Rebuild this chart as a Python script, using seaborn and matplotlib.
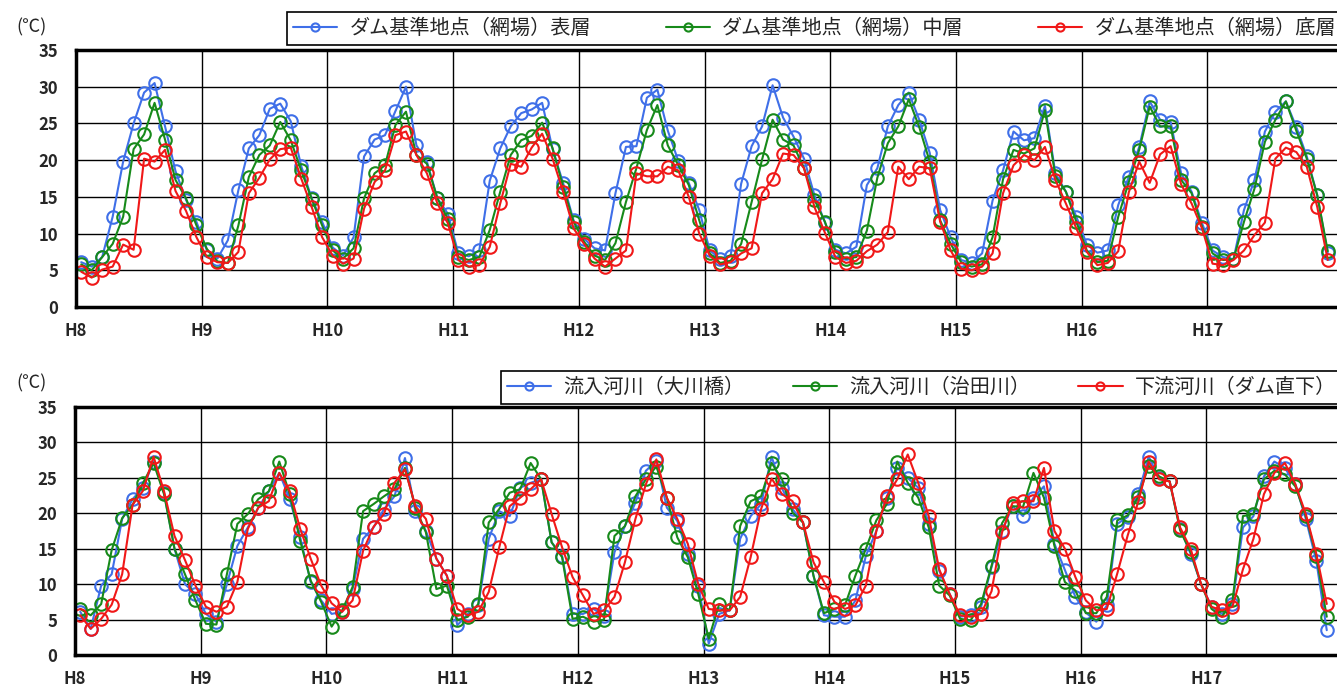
import numpy as np
import matplotlib
matplotlib.use('Agg')
import matplotlib.pyplot as plt
import seaborn as sns

sns.set_style('white')
plt.rcParams['font.family'] = ['Noto Sans CJK JP', 'DejaVu Sans']

# x-axis: fiscal years H8..H17, one reading per month
years = ['H8', 'H9', 'H10', 'H11', 'H12', 'H13', 'H14', 'H15', 'H16', 'H17']

# upper panel: dam reference point (網場), surface / middle / bottom layer
dam_surface = [
    6.1, 5.5, 6.8, 12.3, 19.8, 25.0, 29.2, 30.5, 24.6, 18.5, 14.6, 11.6,
    7.7, 6.6, 9.1, 15.9, 21.6, 23.4, 27.0, 27.7, 25.3, 19.2, 14.8, 11.6,
    8.1, 7.0, 9.5, 20.5, 22.8, 23.4, 26.7, 30.0, 22.0, 19.8, 14.8, 12.7,
    7.3, 6.9, 7.7, 17.2, 21.6, 24.6, 26.4, 26.9, 27.8, 21.5, 16.9, 11.8,
    9.3, 8.0, 7.7, 15.5, 21.8, 21.9, 28.5, 29.6, 24.0, 19.9, 16.9, 13.2,
    7.7, 6.6, 7.0, 16.8, 21.9, 24.6, 30.2, 25.8, 23.2, 20.2, 15.2, 11.5,
    7.8, 7.3, 8.2, 16.6, 18.9, 24.6, 27.5, 29.2, 25.5, 21.0, 13.2, 9.5,
    6.4, 6.0, 7.3, 14.5, 18.6, 23.9, 22.7, 23.0, 27.4, 18.2, 15.7, 12.3,
    8.5, 7.4, 7.7, 13.9, 17.7, 21.8, 28.0, 25.5, 25.2, 18.2, 15.7, 11.4,
    7.7, 6.8, 6.5, 13.2, 17.3, 23.9, 26.6, 28.0, 24.5, 20.5, 15.2, 7.3,
]
dam_middle = [
    5.8, 5.0, 6.8, 8.6, 12.3, 21.5, 23.5, 27.8, 22.8, 17.3, 14.8, 11.1,
    7.9, 6.2, 6.0, 11.1, 17.7, 20.7, 22.0, 25.2, 22.7, 18.6, 14.7, 11.1,
    7.7, 6.6, 8.0, 14.8, 18.2, 19.3, 24.8, 26.6, 20.7, 19.5, 14.8, 12.0,
    6.8, 6.4, 6.8, 10.5, 15.7, 20.7, 22.7, 23.3, 25.1, 21.6, 16.4, 11.6,
    8.9, 7.0, 6.4, 8.7, 14.3, 18.9, 24.1, 27.5, 22.0, 19.3, 16.6, 11.8,
    7.3, 6.0, 6.3, 8.6, 14.3, 20.1, 25.5, 22.8, 22.0, 18.9, 14.6, 11.6,
    7.5, 6.6, 6.8, 10.4, 17.6, 22.3, 24.6, 28.3, 24.5, 19.8, 11.8, 8.6,
    6.1, 5.5, 5.8, 9.5, 17.4, 21.4, 20.9, 21.6, 26.8, 17.8, 15.7, 11.6,
    7.7, 6.1, 6.3, 12.3, 17.0, 21.4, 27.3, 24.6, 24.6, 17.3, 15.5, 10.9,
    7.3, 6.4, 6.5, 11.6, 16.1, 22.5, 25.5, 28.0, 24.0, 20.2, 15.2, 7.6,
]
dam_bottom = [
    4.8, 4.0, 5.1, 5.5, 8.5, 7.8, 20.2, 19.8, 21.4, 15.8, 13.1, 9.5,
    6.8, 6.1, 6.0, 7.5, 15.5, 17.6, 20.1, 21.5, 21.7, 17.5, 13.6, 9.5,
    7.0, 5.9, 6.6, 13.4, 17.0, 18.6, 23.4, 23.9, 20.7, 18.2, 14.1, 11.4,
    6.4, 5.5, 5.7, 8.2, 14.1, 19.5, 19.1, 21.7, 23.6, 20.2, 15.7, 10.7,
    8.6, 6.6, 5.5, 6.6, 7.7, 18.2, 17.8, 17.8, 19.1, 18.6, 15.0, 10.0,
    7.0, 5.8, 6.1, 7.3, 8.0, 15.5, 17.4, 20.9, 20.7, 18.9, 13.6, 10.1,
    6.8, 6.0, 6.3, 7.6, 8.5, 10.2, 19.1, 17.4, 19.1, 18.9, 11.6, 7.7,
    5.2, 5.0, 5.5, 7.3, 15.5, 19.3, 20.7, 20.0, 21.8, 17.3, 14.1, 10.7,
    7.5, 5.7, 6.0, 7.6, 15.6, 19.8, 16.9, 20.8, 21.9, 16.7, 14.1, 10.7,
    5.9, 5.7, 6.4, 7.7, 9.8, 11.5, 20.2, 21.7, 21.1, 19.1, 13.6, 6.4,
]

# lower panel: inflow rivers and downstream river
inflow_okawa = [
    6.1, 3.7, 9.8, 11.4, 19.2, 22.0, 23.6, 27.3, 22.9, 15.0, 10.0, 8.6,
    5.8, 4.7, 10.0, 15.4, 18.0, 20.8, 23.1, 25.7, 22.0, 16.6, 10.3, 7.7,
    5.8, 6.1, 9.3, 16.4, 18.0, 20.6, 22.4, 27.8, 20.3, 17.5, 13.6, 11.2,
    4.2, 5.8, 7.0, 16.4, 20.3, 19.6, 23.6, 24.3, 24.8, 15.9, 14.0, 5.8,
    5.8, 6.5, 5.5, 14.5, 18.2, 21.5, 26.0, 27.4, 20.8, 18.9, 14.3, 9.8,
    1.6, 5.8, 6.3, 16.4, 19.6, 21.3, 28.0, 23.5, 20.6, 18.7, 11.2, 5.6,
    5.4, 5.4, 7.7, 14.0, 17.5, 22.2, 26.4, 25.0, 23.6, 18.5, 11.9, 8.6,
    5.4, 5.6, 6.8, 12.4, 17.5, 21.0, 19.6, 22.2, 23.8, 15.7, 12.0, 8.2,
    6.0, 4.7, 7.0, 18.5, 19.5, 22.7, 28.0, 25.0, 24.5, 17.8, 14.3, 10.0,
    6.8, 5.8, 7.2, 18.0, 19.6, 25.2, 27.3, 26.4, 24.1, 19.2, 13.3, 3.5,
]
inflow_haruta = [
    6.5, 5.6, 7.2, 14.8, 19.3, 21.2, 24.3, 27.1, 22.7, 15.0, 11.4, 7.7,
    4.4, 4.3, 11.4, 18.5, 19.9, 22.0, 23.1, 27.3, 22.7, 16.1, 10.5, 7.5,
    4.0, 6.3, 9.6, 20.3, 21.3, 22.4, 23.4, 26.4, 20.8, 17.3, 9.3, 9.8,
    4.9, 5.4, 7.2, 18.7, 20.6, 22.9, 23.4, 27.1, 24.8, 15.9, 13.8, 5.1,
    5.4, 4.7, 5.0, 16.8, 18.2, 22.4, 24.8, 26.6, 22.2, 16.6, 13.8, 8.6,
    2.3, 7.2, 6.3, 18.2, 21.7, 22.4, 27.1, 24.8, 20.1, 18.7, 11.2, 5.9,
    6.5, 7.0, 11.2, 15.0, 19.0, 21.3, 27.3, 24.3, 22.2, 18.0, 9.8, 8.4,
    5.1, 4.9, 7.2, 12.6, 18.6, 21.0, 20.9, 25.7, 22.2, 15.4, 10.3, 9.1,
    5.9, 5.9, 8.2, 19.0, 19.7, 22.3, 26.7, 25.2, 24.5, 17.6, 14.5, 10.0,
    6.5, 5.4, 7.7, 19.6, 19.9, 24.8, 26.0, 25.5, 23.8, 19.6, 14.0, 5.4,
]
downstream = [
    5.6, 3.7, 5.1, 7.1, 11.4, 21.2, 23.2, 28.0, 23.1, 16.8, 13.4, 9.8,
    6.8, 6.1, 6.8, 10.3, 17.8, 20.8, 21.7, 25.7, 23.1, 17.8, 13.6, 9.8,
    7.3, 6.1, 7.7, 14.7, 18.1, 19.9, 24.3, 26.2, 21.0, 19.2, 13.6, 11.2,
    6.5, 5.6, 6.1, 8.9, 15.2, 21.0, 22.2, 23.4, 24.8, 19.9, 15.2, 11.0,
    8.4, 5.8, 6.3, 8.2, 13.1, 19.2, 24.1, 27.6, 22.2, 19.2, 15.7, 10.0,
    6.5, 6.3, 6.3, 8.2, 13.8, 20.6, 24.9, 22.7, 21.7, 18.7, 13.1, 10.3,
    7.5, 6.5, 7.0, 9.8, 17.5, 22.4, 24.8, 28.3, 24.3, 19.6, 12.1, 8.6,
    5.6, 5.4, 5.8, 9.0, 17.3, 21.5, 21.7, 21.7, 26.4, 17.5, 15.0, 11.0,
    7.7, 6.3, 6.5, 11.5, 16.9, 21.6, 27.3, 24.8, 24.5, 18.0, 15.0, 10.0,
    6.8, 6.3, 6.8, 12.1, 16.4, 22.7, 25.7, 27.1, 24.1, 19.9, 14.3, 7.2,
]

top_labels = ['ダム基準地点（網場）表層', 'ダム基準地点（網場）中層', 'ダム基準地点（網場）底層']
bot_labels = ['流入河川（大川橋）', '流入河川（治田川）', '下流河川（ダム直下）']
colors = ['#3f6fe8', '#178a1a', '#f01818']

# month index -> position in years (middle of each month)
t = np.arange(len(dam_surface)) / 12 + 1 / 24

W, H = 1337, 688
fig = plt.figure(figsize=(W / 100, H / 100), dpi=100)


def px_axes(left, top, right, bottom):
    return fig.add_axes([left / W, 1 - bottom / H, (right - left) / W, (bottom - top) / H])


ax1 = px_axes(76, 50, 1342, 307)
ax2 = px_axes(75, 407, 1342, 655)
year_px = 125.7

panels = [(ax1, [dam_surface, dam_middle, dam_bottom], top_labels),
          (ax2, [inflow_okawa, inflow_haruta, downstream], bot_labels)]

for ax, series, labels in panels:
    for vals, c, lab in zip(series, colors, labels):
        sns.lineplot(x=t, y=vals, ax=ax, color=c, marker='o', markersize=9,
                     markerfacecolor='none', markeredgecolor=c, markeredgewidth=1.5,
                     linewidth=1.5, label=lab, legend=False)
    width_px = ax.get_position().width * W
    ax.set_xlim(0, width_px / year_px)
    ax.set_ylim(0, 35)
    ax.set_yticks(range(0, 36, 5))
    ax.set_xticks(range(len(years)))
    ax.set_xticklabels(years)
    ax.grid(True, color='black', linewidth=1)
    for s in ax.spines.values():
        s.set_color('black')
        s.set_linewidth(2.5)
    ax.tick_params(length=0, labelsize=12, pad=11)
    ax.tick_params(axis='y', pad=13)
    for lbl in ax.get_xticklabels() + ax.get_yticklabels():
        lbl.set_fontweight('bold')
    ax.set_xlabel('')
    ax.set_ylabel('')

fig.text(31 / W, 1 - 27 / H, '(℃)', fontsize=13, ha='center', va='center')
fig.text(31 / W, 1 - 383 / H, '(℃)', fontsize=13, ha='center', va='center')

leg_kw = dict(ncol=3, frameon=True, fancybox=False, framealpha=1, edgecolor='black',
              prop={'size': 14.5}, handlelength=2.2, handletextpad=0.6,
              markerscale=0.65, borderaxespad=0, loc='lower left', mode='expand',
              bbox_transform=fig.transFigure, borderpad=0.3)

h, l = ax1.get_legend_handles_labels()
leg1 = ax1.legend(h, l, bbox_to_anchor=(287 / W, 1 - 45 / H, (1342 - 287) / W, 41 / H),
                  **leg_kw)
h, l = ax2.get_legend_handles_labels()
leg2 = ax2.legend(h, l, bbox_to_anchor=(501 / W, 1 - 404 / H, (1342 - 501) / W, 42 / H),
                  **leg_kw)
for leg in (leg1, leg2):
    leg.get_frame().set_linewidth(1.2)

fig.savefig('out.png', dpi=100)
